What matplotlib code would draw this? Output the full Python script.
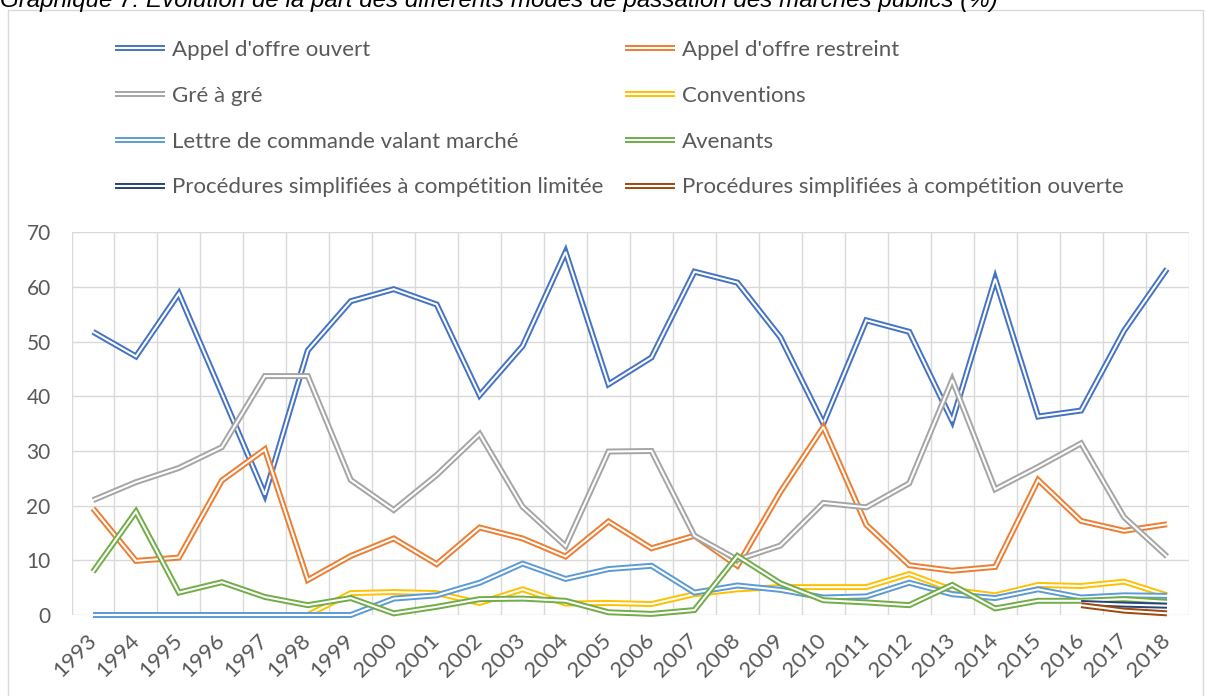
import numpy as np
import matplotlib
matplotlib.use("Agg")
import matplotlib.pyplot as plt
from matplotlib.lines import Line2D
from matplotlib.patches import Rectangle
from matplotlib.transforms import ScaledTranslation

years = list(range(1993, 2019))
year_labels = [str(y) for y in years]

series_names = [
    "Appel d'offre ouvert",
    "Appel d'offre restreint",
    "Gré à gré",
    "Conventions",
    "Lettre de commande valant marché",
    "Avenants",
    "Procédures simplifiées à compétition limitée",
    "Procédures simplifiées à compétition ouverte",
]

appel_ouvert = [51.8, 47.3, 58.8, 40.5, 22.0, 48.4, 57.4, 59.6, 56.8, 40.2, 49.2, 66.4, 42.2,
                47.1, 62.8, 60.8, 50.8, 35.0, 53.9, 51.8, 35.5, 61.5, 36.3, 37.4, 52.0, 63.3]
appel_restreint = [19.5, 9.9, 10.5, 24.6, 30.3, 6.4, 10.8, 14.0, 9.3, 16.0, 14.0, 10.7, 17.1,
                   12.2, 14.5, 9.0, 22.5, 34.4, 16.5, 9.1, 8.1, 8.8, 24.7, 17.2, 15.4, 16.6]
gre_a_gre = [21.0, 24.3, 26.9, 30.7, 43.7, 43.7, 24.7, 19.2, 25.6, 33.1, 19.8, 12.6, 29.9,
             30.0, 14.5, 10.1, 12.7, 20.5, 19.7, 24.1, 43.0, 23.0, 27.1, 31.4, 17.9, 10.7]
conventions = [0, 0, 0, 0, 0, 0, 4.0, 4.2, 4.0, 2.2, 4.7, 2.1, 2.2,
               2.0, 3.8, 4.7, 5.1, 5.1, 5.1, 7.5, 4.6, 3.6, 5.5, 5.3, 6.1, 3.6]
lettre_commande = [0, 0, 0, 0, 0, 0, 0, 3.0, 3.6, 5.9, 9.4, 6.6, 8.4,
                   9.0, 4.1, 5.4, 4.6, 3.2, 3.4, 5.9, 3.8, 3.1, 4.7, 3.2, 3.6, 3.5]
avenants = [7.9, 18.9, 4.1, 6.0, 3.3, 1.8, 3.1, 0.3, 1.5, 2.9, 3.0, 2.6, 0.5,
            0.2, 0.9, 10.8, 5.8, 2.7, 2.3, 1.8, 5.5, 1.2, 2.6, 2.6, 2.9, 2.4]
nan = float("nan")
proc_limitee = [nan] * 23 + [2.2, 1.9, 1.7]
proc_ouverte = [nan] * 23 + [1.8, 0.8, 0.3]

series_values = [appel_ouvert, appel_restreint, gre_a_gre, conventions,
                 lettre_commande, avenants, proc_limitee, proc_ouverte]
colors = ["#4472C4", "#ED7D31", "#A5A5A5", "#FFC000",
          "#5B9BD5", "#70AD47", "#264478", "#9E480E"]

W, H = 1205, 696
fig = plt.figure(figsize=(W / 100, H / 100), dpi=100)
fig.patch.set_facecolor("white")

FONT = ["Lato", "DejaVu Sans"]
TXT = "#595959"
FS = 16
FS_Y = 15
LW_OUT = 4.3
LW_IN = 1.5

# outer chart border
fig.patches.append(Rectangle((8 / W, -0.05), (1203 - 8) / W, 1.05 - 10 / H,
                             transform=fig.transFigure, fill=False,
                             edgecolor="#D9D9D9", linewidth=1.0))

# title (partly cut at the top, as in the reference)
fig.text(0 / W, 1 - 7 / H,
         "Graphique 7: Evolution de la part des différents modes de passation des marchés publics (%)",
         family=["Liberation Sans", "DejaVu Sans"], style="italic", fontsize=17.4,
         ha="left", va="baseline", color="#000000")

left, right, top, bottom = 71.5, 1188.5, 232.3, 615
ax = fig.add_axes([left / W, 1 - bottom / H, (right - left) / W, (bottom - top) / H])
x = np.arange(len(years))

handles = []
for vals, c, name in zip(series_values, colors, series_names):
    ax.plot(x, vals, color=c, lw=LW_OUT, solid_joinstyle="miter", solid_capstyle="butt",
            clip_on=False)
    ax.plot(x, vals, color="white", lw=LW_IN, solid_joinstyle="miter", solid_capstyle="butt",
            clip_on=False)
    h1 = Line2D([], [], color=c, lw=LW_OUT, solid_capstyle="butt")
    h2 = Line2D([], [], color="white", lw=LW_IN, solid_capstyle="butt")
    handles.append(((h1, h2), name))

ax.set_xlim(-0.5, len(years) - 0.5)
ax.set_ylim(0, 70)
ax.set_yticks(range(0, 71, 10))
ax.set_xticks(x)
ax.set_xticks(np.arange(-0.5, len(years), 1), minor=True)
ax.set_xticklabels(year_labels, rotation=45, ha="right", va="center",
                   rotation_mode="anchor", family=FONT, fontsize=FS, color=TXT)
shift = ScaledTranslation(-4 / 100, -2 / 100, fig.dpi_scale_trans)
for lab in ax.get_xticklabels():
    lab.set_transform(lab.get_transform() + shift)
for lab in ax.get_yticklabels():
    lab.set_family(FONT)
    lab.set_fontsize(FS_Y)
    lab.set_color(TXT)
ax.tick_params(axis="both", which="both", length=0)
ax.tick_params(axis="y", pad=15)
ax.tick_params(axis="x", pad=16)
ax.grid(True, axis="y", which="major", color="#D9D9D9", lw=1.0)
ax.grid(True, axis="x", which="minor", color="#D9D9D9", lw=1.0)
ax.grid(False, axis="x", which="major")
ax.set_axisbelow(True)
for s in ax.spines.values():
    s.set_visible(False)

# legend: two columns, row-major order as in the reference
col1 = [handles[i] for i in (0, 2, 4, 6)]
col2 = [handles[i] for i in (1, 3, 5, 7)]
leg_kw = dict(frameon=False, loc="upper left", borderpad=0, borderaxespad=0,
              handlelength=2.25, handletextpad=0.3, labelspacing=1.16,
              prop={"family": FONT, "size": FS}, labelcolor=TXT)
leg1 = fig.legend([h for h, _ in col1], [n for _, n in col1],
                  bbox_to_anchor=(115 / W, 1 - 40 / H), **leg_kw)
leg2 = fig.legend([h for h, _ in col2], [n for _, n in col2],
                  bbox_to_anchor=(625 / W, 1 - 40 / H), **leg_kw)

fig.savefig("out.png", dpi=100, facecolor="white")
